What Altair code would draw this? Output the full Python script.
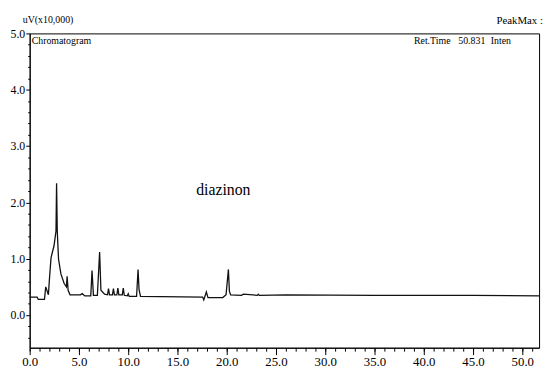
import altair as alt
import pandas as pd

# Chromatogram trace (retention time in min, intensity in uV x10,000)
times = [0.0, 0.75, 0.87, 1.5, 1.63, 1.9, 2.03, 2.17, 2.47, 2.67, 2.73, 2.8, 2.93,
         3.17, 3.5, 3.73, 3.8, 3.9, 4.1, 5.15, 5.33, 5.6, 6.2, 6.33, 6.47, 6.87,
         7.1, 7.23, 7.6, 7.9, 8.0, 8.1, 8.4, 8.5, 8.6, 8.85, 8.95, 9.05, 9.4, 9.5,
         9.6, 9.9, 10.0, 10.1, 10.85, 11.0, 11.1, 11.25, 17.55, 17.67, 17.93, 18.1,
         19.6, 19.93, 20.17, 20.27, 20.4, 21.5, 21.7, 23.1, 23.2, 23.3, 26.0, 35.0,
         45.0, 51.7]
values = [0.32, 0.32, 0.28, 0.28, 0.50, 0.36, 0.70, 1.02, 1.23, 1.49, 2.34, 1.49, 0.99,
          0.73, 0.56, 0.50, 0.69, 0.44, 0.36, 0.36, 0.38, 0.34, 0.34, 0.79, 0.35, 0.35,
          1.12, 0.44, 0.37, 0.36, 0.47, 0.36, 0.36, 0.47, 0.36, 0.36, 0.48, 0.36, 0.36, 0.48,
          0.35, 0.34, 0.38, 0.33, 0.33, 0.81, 0.45, 0.33, 0.32, 0.27, 0.41, 0.31,
          0.31, 0.36, 0.81, 0.42, 0.36, 0.35, 0.37, 0.35, 0.37, 0.35, 0.36, 0.35,
          0.35, 0.34]

x_major = [0, 5, 10, 15, 20, 25, 30, 35, 40, 45, 50]
x_minor = list(range(0, 52))
y_major = [0, 1, 2, 3, 4, 5]
y_minor = [-0.4, -0.2, 0.2, 0.4, 0.6, 0.8, 1.2, 1.4, 1.6, 1.8, 2.2, 2.4, 2.6, 2.8,
           3.2, 3.4, 3.6, 3.8, 4.2, 4.4, 4.6, 4.8]

df = pd.DataFrame({"t": times, "v": values})

FONT = "'Liberation Serif', 'Times New Roman', serif"
xscale = alt.Scale(domain=[0, 51.7], nice=False, zero=False)
yscale = alt.Scale(domain=[-0.58, 5.0], nice=False, zero=False)

line = alt.Chart(df).mark_line(color="#111111", strokeWidth=1.3).encode(
    x=alt.X("t:Q", scale=xscale, axis=alt.Axis(
        orient="bottom", values=x_major, format=".1f", title=None, tickSize=7,
        labelPadding=1, labelFontSize=13, labelFont=FONT, labelColor="black",
        tickColor="black", domainColor="black", grid=False, labelFlush=False,
        labelOverlap=False)),
    y=alt.Y("v:Q", scale=yscale, axis=alt.Axis(
        orient="left", values=y_major, format=".1f", title=None, tickSize=4,
        labelPadding=1, labelFontSize=12, labelFont=FONT, labelColor="black",
        tickColor="black", domainColor="black", grid=False, labelFlush=False,
        labelOverlap=False)),
)

minor = alt.Chart(df).mark_line(opacity=0).encode(
    x=alt.X("t:Q", scale=xscale, axis=alt.Axis(
        orient="bottom", values=x_minor, labels=False, title=None, tickSize=3.5,
        domain=False, tickColor="black", grid=False)),
    y=alt.Y("v:Q", scale=yscale, axis=alt.Axis(
        orient="left", values=y_minor, labels=False, title=None, tickSize=2,
        domain=False, tickColor="black", grid=False)),
)

one = pd.DataFrame({"a": [0]})

def label(txt, x, y, size=10, align="left"):
    return alt.Chart(one).mark_text(
        font=FONT, fontSize=size, color="black", align=align, baseline="alphabetic"
    ).encode(x=alt.value(x), y=alt.value(y), text=alt.value(txt))

texts = [
    label("uV(x10,000)", -7, -11, 10),
    label("PeakMax :", 521, -10, 11, "right"),
    label("Chromatogram", 2, 11, 10),
    label("Ret.Time", 390, 11, 10),
    label("50.831", 435, 11, 10),
    label("Inten", 468, 11, 10),
    label("diazinon", 196.5, 164, 16, "center"),
]

chart = alt.layer(line, minor, *texts).resolve_axis(
    x="independent", y="independent"
).properties(
    width=517, height=319,
    autosize=alt.AutoSizeParams(type="none"),
    padding={"left": 22, "top": 23, "right": 5, "bottom": 31},
    background="white",
).configure_view(stroke="black", strokeWidth=1)

chart.save("out.html", embed_options={"renderer": "svg", "actions": False})
